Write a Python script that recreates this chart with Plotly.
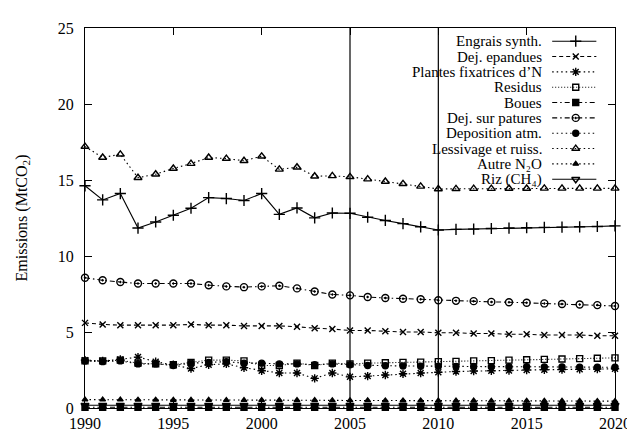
import plotly.graph_objects as go

years = list(range(1990, 2021))

engrais = [14.62, 13.69, 14.11, 11.84, 12.24, 12.68, 13.14, 13.84, 13.78, 13.65, 14.11,
           12.74, 13.16, 12.51, 12.83, 12.81, 12.55, 12.34, 12.13, 11.92, 11.71,
           11.75, 11.77, 11.81, 11.84, 11.86, 11.88, 11.90, 11.92, 11.94, 11.98]
dej_epandues = [5.60, 5.50, 5.45, 5.45, 5.45, 5.45, 5.50, 5.45, 5.45, 5.40, 5.40,
                5.40, 5.35, 5.25, 5.20, 5.10, 5.10, 5.05, 5.00, 5.00, 4.95,
                4.95, 4.90, 4.90, 4.85, 4.85, 4.80, 4.80, 4.80, 4.75, 4.75]
plantes_fix = [3.15, 3.10, 3.20, 3.35, 3.05, 2.85, 2.60, 2.85, 2.90, 2.65, 2.45,
               2.30, 2.30, 1.95, 2.30, 2.05, 2.10, 2.17, 2.25, 2.30, 2.35,
               2.40, 2.43, 2.45, 2.47, 2.50, 2.52, 2.53, 2.55, 2.57, 2.58]
residus = [3.10, 3.10, 3.15, 2.95, 2.90, 2.85, 3.00, 3.15, 3.15, 3.10, 2.80,
           2.80, 2.95, 2.80, 2.95, 2.90, 2.95, 2.98, 3.00, 3.02, 3.05,
           3.07, 3.10, 3.12, 3.15, 3.17, 3.20, 3.22, 3.25, 3.27, 3.30]
boues = [0.05] * 31
dej_patures = [8.57, 8.40, 8.29, 8.19, 8.19, 8.19, 8.19, 8.08, 8.00, 7.95, 8.00,
               8.04, 7.87, 7.66, 7.47, 7.41, 7.30, 7.24, 7.19, 7.15, 7.09,
               7.05, 7.03, 6.98, 6.96, 6.92, 6.88, 6.84, 6.81, 6.77, 6.71]
deposition = [3.10, 3.05, 3.10, 2.90, 2.90, 2.80, 2.95, 3.00, 3.05, 2.95, 2.95,
              2.90, 2.90, 2.85, 2.90, 2.85, 2.80, 2.78, 2.77, 2.75, 2.75,
              2.74, 2.73, 2.72, 2.72, 2.71, 2.70, 2.70, 2.69, 2.68, 2.68]
lessivage = [17.20, 16.48, 16.69, 15.15, 15.38, 15.76, 16.08, 16.48, 16.41, 16.27, 16.56,
             15.70, 15.84, 15.25, 15.27, 15.21, 15.06, 14.90, 14.75, 14.58, 14.41,
             14.42, 14.43, 14.43, 14.44, 14.44, 14.45, 14.45, 14.45, 14.45, 14.45]
autre_n2o = [0.55, 0.55, 0.55, 0.54, 0.54, 0.53, 0.53, 0.53, 0.52, 0.52, 0.52,
             0.51, 0.51, 0.51, 0.50, 0.50, 0.50, 0.49, 0.49, 0.49, 0.48,
             0.48, 0.48, 0.47, 0.47, 0.47, 0.46, 0.46, 0.46, 0.45, 0.45]
riz = [0.18] * 31

names = ["Engrais synth.", "Dej. epandues", "Plantes fixatrices d’N", "Residus", "Boues",
         "Dej. sur patures", "Deposition atm.", "Lessivage et ruiss.",
         "Autre N₂O", "Riz (CH₄)"]
series = [engrais, dej_epandues, plantes_fix, residus, boues,
          dej_patures, deposition, lessivage, autre_n2o, riz]
ref_years = [2005, 2010]

DASH = "4px,3px"
DOT = "1.5px,3px"
FINEDOT = "1px,2px"
DASHDOT = "5px,3px,1.5px,3px"
styles = [
    dict(dash="solid", symbol="cross-thin-open", size=8),
    dict(dash=DASH, symbol="x-thin-open", size=6),
    dict(dash=DOT, symbol="asterisk-open", size=7),
    dict(dash=FINEDOT, symbol="square-open", size=6),
    dict(dash=DASHDOT, symbol="square", size=6),
    dict(dash=DASHDOT, symbol="circle-open-dot", size=7),
    dict(dash=DOT, symbol="circle", size=6),
    dict(dash=DOT, symbol="triangle-up-open", size=7),
    dict(dash=DOT, symbol="triangle-up", size=5),
    dict(dash="solid", symbol="triangle-down-open", size=7),
]

FONT = "Liberation Serif"
FS = 16
LFS = 15
fig = go.Figure()

for name, vals, st in zip(names, series, styles):
    fig.add_trace(go.Scatter(
        x=years, y=vals, mode="lines+markers", name=name, showlegend=False,
        cliponaxis=False,
        line=dict(color="black", width=1.1, dash=st["dash"]),
        marker=dict(symbol=st["symbol"], size=st["size"], color="black",
                    line=dict(color="black", width=1.4)),
    ))

# gnuplot-style key drawn on an overlay axis (0..1 over plot area)
L, R, T, B = 77, 18, 18, 24
W, H = 635 - L - R, 436 - T - B
row0, rowstep = 31.7, 15.9
for i, (name, st) in enumerate(zip(names, styles)):
    ypx = row0 + rowstep * i
    yf = (436 - B - ypx) / H
    x0f = (553 - L) / W
    x1f = (598 - L) / W
    xmf = (577 - L) / W
    fig.add_trace(go.Scatter(
        x=[x0f, x1f], y=[yf, yf], xaxis="x2", yaxis="y2", mode="lines",
        showlegend=False, hoverinfo="skip", cliponaxis=False,
        line=dict(color="black", width=1.1, dash=st["dash"]),
    ))
    fig.add_trace(go.Scatter(
        x=[xmf], y=[yf], xaxis="x2", yaxis="y2", mode="markers",
        showlegend=False, hoverinfo="skip", cliponaxis=False,
        marker=dict(symbol=st["symbol"], size=st["size"], color="black",
                    line=dict(color="black", width=1.4)),
    ))
    fig.add_annotation(x=(545 - L) / W, y=yf, xref="paper", yref="paper",
                       text=name, showarrow=False, xanchor="right", yanchor="middle",
                       font=dict(family=FONT, size=LFS, color="black"))

for yr in ref_years:
    fig.add_shape(type="line", x0=yr, x1=yr, y0=0, y1=1, xref="x", yref="paper",
                  line=dict(color="black", width=1.2))

axis_common = dict(showgrid=False, zeroline=False, showline=True, linecolor="black",
                   linewidth=1.2, mirror="ticks", ticks="inside", ticklen=7,
                   tickcolor="black", tickwidth=1,
                   tickfont=dict(family=FONT, size=FS, color="black"))

fig.update_layout(
    width=635, height=436,
    margin=dict(l=L, r=R, t=T, b=B),
    paper_bgcolor="white", plot_bgcolor="white",
    font=dict(family=FONT, size=FS, color="black"),
    xaxis=dict(range=[1990, 2020], tickmode="linear", tick0=1990, dtick=5,
               ticklabelstandoff=1, **axis_common),
    yaxis=dict(range=[0, 25], tickmode="linear", tick0=0, dtick=5, ticklabelstandoff=7,
               title=dict(text="Emissions (MtCO<sub>2</sub>)", standoff=26,
                          font=dict(family=FONT, size=FS, color="black")),
               **axis_common),
    xaxis2=dict(range=[0, 1], overlaying="x", visible=False),
    yaxis2=dict(range=[0, 1], overlaying="y", visible=False),
)

fig.write_html("out.html")
